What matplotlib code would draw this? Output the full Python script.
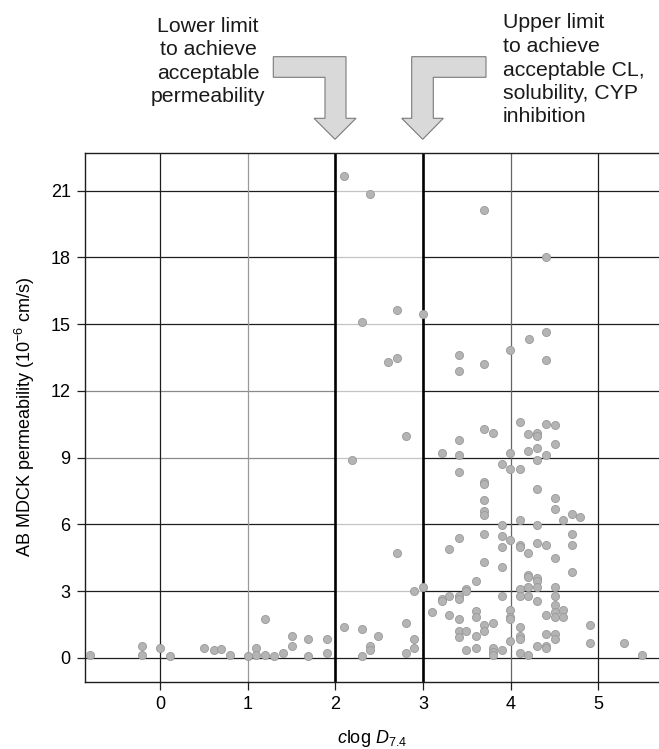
import numpy as np
import matplotlib
matplotlib.use('Agg')
import matplotlib.pyplot as plt
from matplotlib.patches import Polygon

plt.rcParams['font.family'] = ['Liberation Sans', 'DejaVu Sans']
plt.rcParams['mathtext.fontset'] = 'custom'
plt.rcParams['mathtext.rm'] = 'Liberation Sans'
plt.rcParams['mathtext.it'] = 'Liberation Sans:italic'
plt.rcParams['mathtext.bf'] = 'Liberation Sans:bold'

# clogD7.4 vs AB MDCK permeability
clogd = [-0.80, -0.20, -0.20, 0.00, 0.11, 0.50, 0.61, 0.70, 0.80, 1.00,
         1.10, 1.10, 1.20, 1.20, 1.30, 1.40, 1.50, 1.50, 1.69, 1.69,
         1.90, 1.90, 2.10, 2.30, 2.30, 2.40, 2.40, 2.49, 2.19,
         2.10, 2.40, 2.30, 3.70, 4.40, 2.70, 3.00, 2.60, 2.70, 3.41,
         3.41, 3.70, 3.99, 4.21, 4.40, 4.40,
         4.10, 4.40, 4.50, 2.80, 3.70, 3.80, 4.20, 4.30, 4.30, 3.41,
         4.50, 3.21, 3.41, 3.99, 4.20, 4.30, 4.40, 4.30, 3.41, 3.90,
         3.99, 4.10, 3.70, 3.70, 4.30, 3.70, 4.50, 4.50, 3.70, 3.70,
         4.70, 4.79, 4.59, 4.10, 3.90, 4.30, 3.70, 3.90, 3.99, 4.10,
         4.10, 4.30, 4.40, 4.70, 4.70, 3.41, 3.30, 3.90, 4.20, 4.50,
         2.70, 3.70, 3.90, 4.70, 3.60, 4.20, 4.20, 4.30, 4.30, 4.20,
         4.30, 4.50, 3.00, 2.90, 3.49, 3.49, 4.10, 4.10, 3.90, 4.20,
         4.50, 4.30, 3.21, 3.21, 3.30, 3.41, 3.41, 3.10, 3.30, 3.41,
         3.60, 3.60, 3.99, 3.99, 3.99, 4.40, 4.50, 4.50, 4.50, 4.59,
         4.59, 4.90, 3.70, 3.80, 3.70, 3.41, 3.41, 3.49, 3.60, 4.10,
         4.10, 4.10, 4.40, 4.50, 4.50, 3.99, 4.90, 5.29, 5.50, 2.80,
         2.90, 2.90, 2.80, 3.49, 3.60, 3.80, 3.80, 3.80, 3.90, 4.10,
         4.20, 4.30, 4.40, 4.40]
permeability = [0.14, 0.54, 0.14, 0.45, 0.09, 0.45, 0.35, 0.38, 0.14, 0.09,
                0.45, 0.14, 1.76, 0.14, 0.09, 0.23, 0.98, 0.54, 0.83, 0.09,
                0.87, 0.23, 1.38, 1.28, 0.09, 0.54, 0.35, 0.98, 8.90,
                21.65, 20.85, 15.12, 20.15, 18.03, 15.65, 15.44, 13.32, 13.50, 13.62,
                12.90, 13.20, 13.83, 14.34, 14.66, 13.41,
                10.61, 10.50, 10.46, 9.99, 10.29, 10.10, 10.05, 10.10, 9.98, 9.78,
                9.63, 9.23, 9.11, 9.23, 9.32, 9.42, 9.11, 8.90, 8.37, 8.70,
                8.48, 8.48, 7.92, 7.82, 7.59, 7.08, 7.19, 6.68, 6.60, 6.42,
                6.47, 6.32, 6.21, 6.21, 5.99, 5.99, 5.58, 5.48, 5.28, 5.09,
                4.98, 5.16, 5.07, 5.58, 5.07, 5.37, 4.91, 4.98, 4.71, 4.50,
                4.71, 4.29, 4.10, 3.87, 3.47, 3.72, 3.62, 3.57, 3.44, 3.20,
                3.20, 3.20, 3.20, 3.00, 3.09, 2.99, 3.11, 2.79, 2.79, 2.79,
                2.79, 2.58, 2.67, 2.57, 2.78, 2.79, 2.67, 2.06, 1.95, 1.74,
                2.10, 1.85, 2.16, 1.85, 1.74, 1.95, 2.37, 2.06, 1.85, 2.16,
                1.85, 1.49, 1.49, 1.59, 1.19, 1.19, 0.92, 1.19, 0.98, 1.38,
                0.98, 0.87, 1.07, 1.07, 0.87, 0.77, 0.66, 0.66, 0.14, 1.59,
                0.87, 0.45, 0.20, 0.35, 0.45, 0.45, 0.26, 0.14, 0.35, 0.24,
                0.14, 0.54, 0.54, 0.45]

x_ticks = [0, 1, 2, 3, 4, 5]
y_ticks = [0, 3, 6, 9, 12, 15, 18, 21]
lower_limit, upper_limit = 2, 3

W, H = 659, 749
fig = plt.figure(figsize=(W / 100, H / 100), dpi=100)
ax = fig.add_axes([85.3 / W, 1 - 681.5 / H, 1 - 85.3 / W, (681.5 - 152.7) / H])
ax.set_xlim(-0.852, 5.69)
ax.set_ylim(-1.06, 22.71)

dark = '#1e1e1e'
# horizontal grid, printed in pieces of different grey
for yv in y_ticks:
    left_col = '#8a8a8a' if yv in (9, 12) else dark
    mid_col = dark if yv == 0 else '#c4c4c4'
    ax.hlines(yv, -0.852, lower_limit, color=left_col, lw=0.9, zorder=1)
    ax.hlines(yv, lower_limit, upper_limit, color=mid_col, lw=0.9, zorder=1)
    ax.hlines(yv, upper_limit, 5.69, color=dark, lw=0.9, zorder=1)

vcols = {0: dark, 1: '#999999', 4: '#666666', 5: dark}
for xv in x_ticks:
    if xv in (lower_limit, upper_limit):
        ax.axvline(xv, color='#000000', lw=1.9, zorder=1.5)
    else:
        ax.axvline(xv, color=vcols[xv], lw=0.9, zorder=1)

ax.scatter(clogd, permeability, s=34, c='#b4b4b4', edgecolors='#999999',
           linewidths=0.6, zorder=3, clip_on=False)

ax.set_xticks(x_ticks)
ax.set_yticks(y_ticks)
ax.tick_params(axis='both', labelsize=13, length=5.5, width=0.9, color=dark,
               direction='out', pad=5)
for t, yv in zip(ax.yaxis.get_major_ticks(), y_ticks):
    if yv in (9, 12):
        t.tick1line.set_color('#8a8a8a')
for t, xv in zip(ax.xaxis.get_major_ticks(), x_ticks):
    t.tick1line.set_color(vcols.get(xv, '#000000'))

ax.spines['right'].set_visible(False)
for s in ('left', 'bottom', 'top'):
    ax.spines[s].set_color(dark)
    ax.spines[s].set_linewidth(1.0)

ax.set_xlabel(r'$c$log $D_{7.4}$', fontsize=13, labelpad=11)
ax.set_ylabel(r'AB MDCK permeability (10$^{-6}$ cm/s)', fontsize=13, labelpad=10)


def px(points):
    return [(x / W, 1 - y / H) for x, y in points]


left_arrow = [(273.3, 56.7), (346, 56.7), (346, 118.3), (356, 118.3), (335, 139.3),
              (314, 118.3), (325, 118.3), (325, 77.3), (273.3, 77.3)]
right_arrow = [(486, 56.7), (411.7, 56.7), (411.7, 118.3), (401.7, 118.3), (422.7, 139.3),
               (443.3, 118.3), (433.3, 118.3), (433.3, 77.3), (486, 77.3)]
for pts in (left_arrow, right_arrow):
    fig.patches.append(Polygon(px(pts), closed=True, transform=fig.transFigure,
                               facecolor='#d9d9d9', edgecolor='#7a7a7a', lw=0.8))

fig.text(208 / W, 1 - 61.5 / H, 'Lower limit\nto achieve\nacceptable\npermeability',
         ha='center', va='center', multialignment='center', fontsize=15.3,
         linespacing=1.3, color='#1a1a1a')
fig.text(502.7 / W, 1 - 70 / H,
         'Upper limit\nto achieve\nacceptable CL,\nsolubility, CYP\ninhibition',
         ha='left', va='center', multialignment='left', fontsize=15.3,
         linespacing=1.3, color='#1a1a1a')

fig.savefig('out.png', dpi=100)
